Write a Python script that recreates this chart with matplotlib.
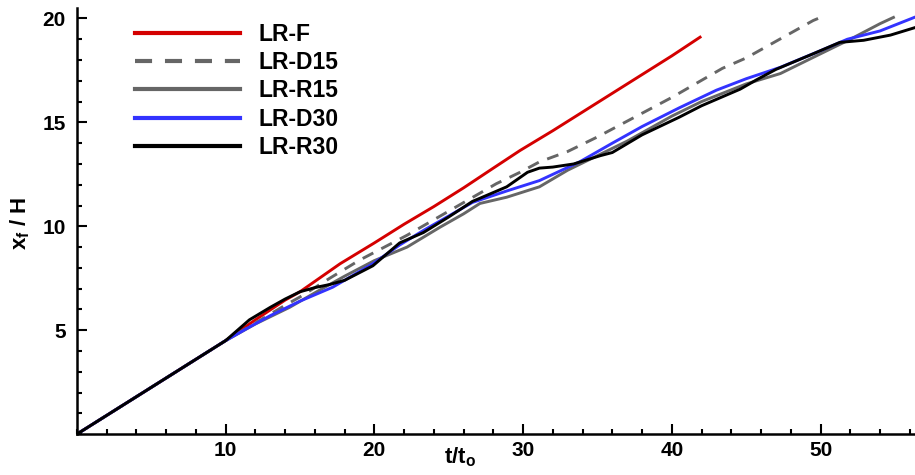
import matplotlib
matplotlib.use("Agg")
import matplotlib.pyplot as plt
from matplotlib.ticker import MultipleLocator

plt.rcParams['font.family'] = ['Liberation Sans', 'DejaVu Sans']
plt.rcParams['font.weight'] = 'bold'
plt.rcParams['mathtext.fontset'] = 'custom'
plt.rcParams['mathtext.rm'] = 'Liberation Sans:bold'
plt.rcParams['mathtext.it'] = 'Liberation Sans:bold'
plt.rcParams['mathtext.bf'] = 'Liberation Sans:bold'
plt.rcParams['mathtext.default'] = 'rm'

# front position x_f/H versus t/t_o
t_f = [0, 2, 4, 6, 8, 10, 12, 14, 15, 16, 17.7, 20, 22, 24, 26, 28, 29.8, 32, 34, 36, 38, 40, 41.9]
x_f = [0, 0.9, 1.8, 2.7, 3.6, 4.5, 5.5, 6.45, 6.85, 7.35, 8.2, 9.2, 10.1, 10.95, 11.85, 12.8, 13.65,
       14.6, 15.5, 16.4, 17.3, 18.2, 19.1]

t_d15 = [0, 2, 4, 6, 8, 10, 12, 14, 15, 17, 19, 22.2, 25.1, 28.2, 29.8, 31.1, 33, 35, 40, 43.4, 45, 49.5, 50]
x_d15 = [0, 0.9, 1.8, 2.7, 3.6, 4.5, 5.35, 6.2, 6.6, 7.5, 8.37, 9.57, 10.77, 12.05, 12.6, 13.1, 13.6,
         14.3, 16.2, 17.6, 18.1, 19.9, 20.05]

t_r15 = [0, 2, 4, 6, 8, 10, 12, 14.3, 16, 18, 20, 22.2, 24.4, 26, 27.1, 28.9, 31.1, 33, 35, 37, 40,
         42, 45, 47.3, 50, 52, 54, 54.9]
x_r15 = [0, 0.9, 1.8, 2.7, 3.6, 4.5, 5.3, 6.1, 6.8, 7.6, 8.35, 9.0, 9.95, 10.6, 11.1, 11.4, 11.9,
         12.7, 13.4, 14.1, 15.3, 16.0, 16.85, 17.35, 18.3, 19.0, 19.75, 20.05]

t_d30 = [0, 2, 4, 6, 8, 10, 11.6, 13, 15, 17.2, 19.9, 21.7, 23.3, 26.6, 28.9, 31.1, 33.8, 36, 38,
         40.5, 43, 45, 47.3, 50, 51.8, 54, 56.3]
x_d30 = [0, 0.9, 1.8, 2.7, 3.6, 4.5, 5.15, 5.7, 6.4, 7.07, 8.2, 9.1, 9.8, 11.15, 11.7, 12.2, 13.1,
         14.0, 14.8, 15.7, 16.55, 17.1, 17.65, 18.45, 19.0, 19.4, 20.05]

t_r30 = [0, 2, 4, 6, 8, 10, 11.6, 13, 14, 15, 16, 17, 18, 19.9, 21.7, 23.3, 25, 26.6, 27.1, 28.9,
         30.3, 31.1, 32, 33.4, 35.2, 36, 38, 40.5, 42, 44.6, 45.7, 47, 49.5, 51.3, 52.9, 54.7, 56.3]
x_r30 = [0, 0.9, 1.8, 2.7, 3.6, 4.5, 5.5, 6.1, 6.5, 6.85, 7.05, 7.2, 7.4, 8.1, 9.2, 9.7, 10.45,
         11.2, 11.35, 11.9, 12.6, 12.8, 12.85, 13.0, 13.4, 13.55, 14.4, 15.25, 15.8, 16.6, 17.05,
         17.55, 18.3, 18.85, 18.95, 19.2, 19.55]

fig = plt.figure(figsize=(9.15, 4.75), dpi=100)
ax = fig.add_axes([0.084, 0.086, 0.916, 0.897])

lw = 2.1
ax.plot(t_f, x_f, color='#d40000', lw=lw, label='LR-F')
ax.plot(t_d15, x_d15, color='#666666', lw=lw, linestyle=(0, (8.6 / lw, 6.5 / lw)), label='LR-D15')
ax.plot(t_r15, x_r15, color='#666666', lw=lw, label='LR-R15')
ax.plot(t_d30, x_d30, color='#3333ff', lw=lw, label='LR-D30')
ax.plot(t_r30, x_r30, color='black', lw=lw, label='LR-R30')

ax.set_xlim(0, 56.35)
ax.set_ylim(0, 20.5)
ax.set_xticks([10, 20, 30, 40, 50])
ax.set_yticks([5, 10, 15, 20])
ax.xaxis.set_minor_locator(MultipleLocator(2))
ax.yaxis.set_minor_locator(MultipleLocator(1))
ax.tick_params(which='both', direction='in', width=1.5, labelsize=15)
ax.tick_params(which='major', length=7)
ax.tick_params(which='minor', length=3.5)
ax.tick_params(axis='x', pad=5)
ax.tick_params(axis='y', pad=8)
for s in ['top', 'right']:
    ax.spines[s].set_visible(False)
for s in ['left', 'bottom']:
    ax.spines[s].set_linewidth(1.8)

ax.set_xlabel(r't/t$_o$', fontsize=16, fontweight='bold')
ax.set_ylabel(r'x$_f$ / H', fontsize=16, fontweight='bold')
ax.xaxis.set_label_coords(0.457, -0.026)
ax.yaxis.set_label_coords(-0.054, 0.495)

leg = ax.legend(loc='upper left', bbox_to_anchor=(0.069, 0.964), frameon=False, fontsize=16.5,
                handlelength=4.6, handletextpad=0.8, labelspacing=0.22,
                borderpad=0, borderaxespad=0)
for h in leg.get_lines():
    h.set_linewidth(3)

fig.savefig('out.png', dpi=100)
